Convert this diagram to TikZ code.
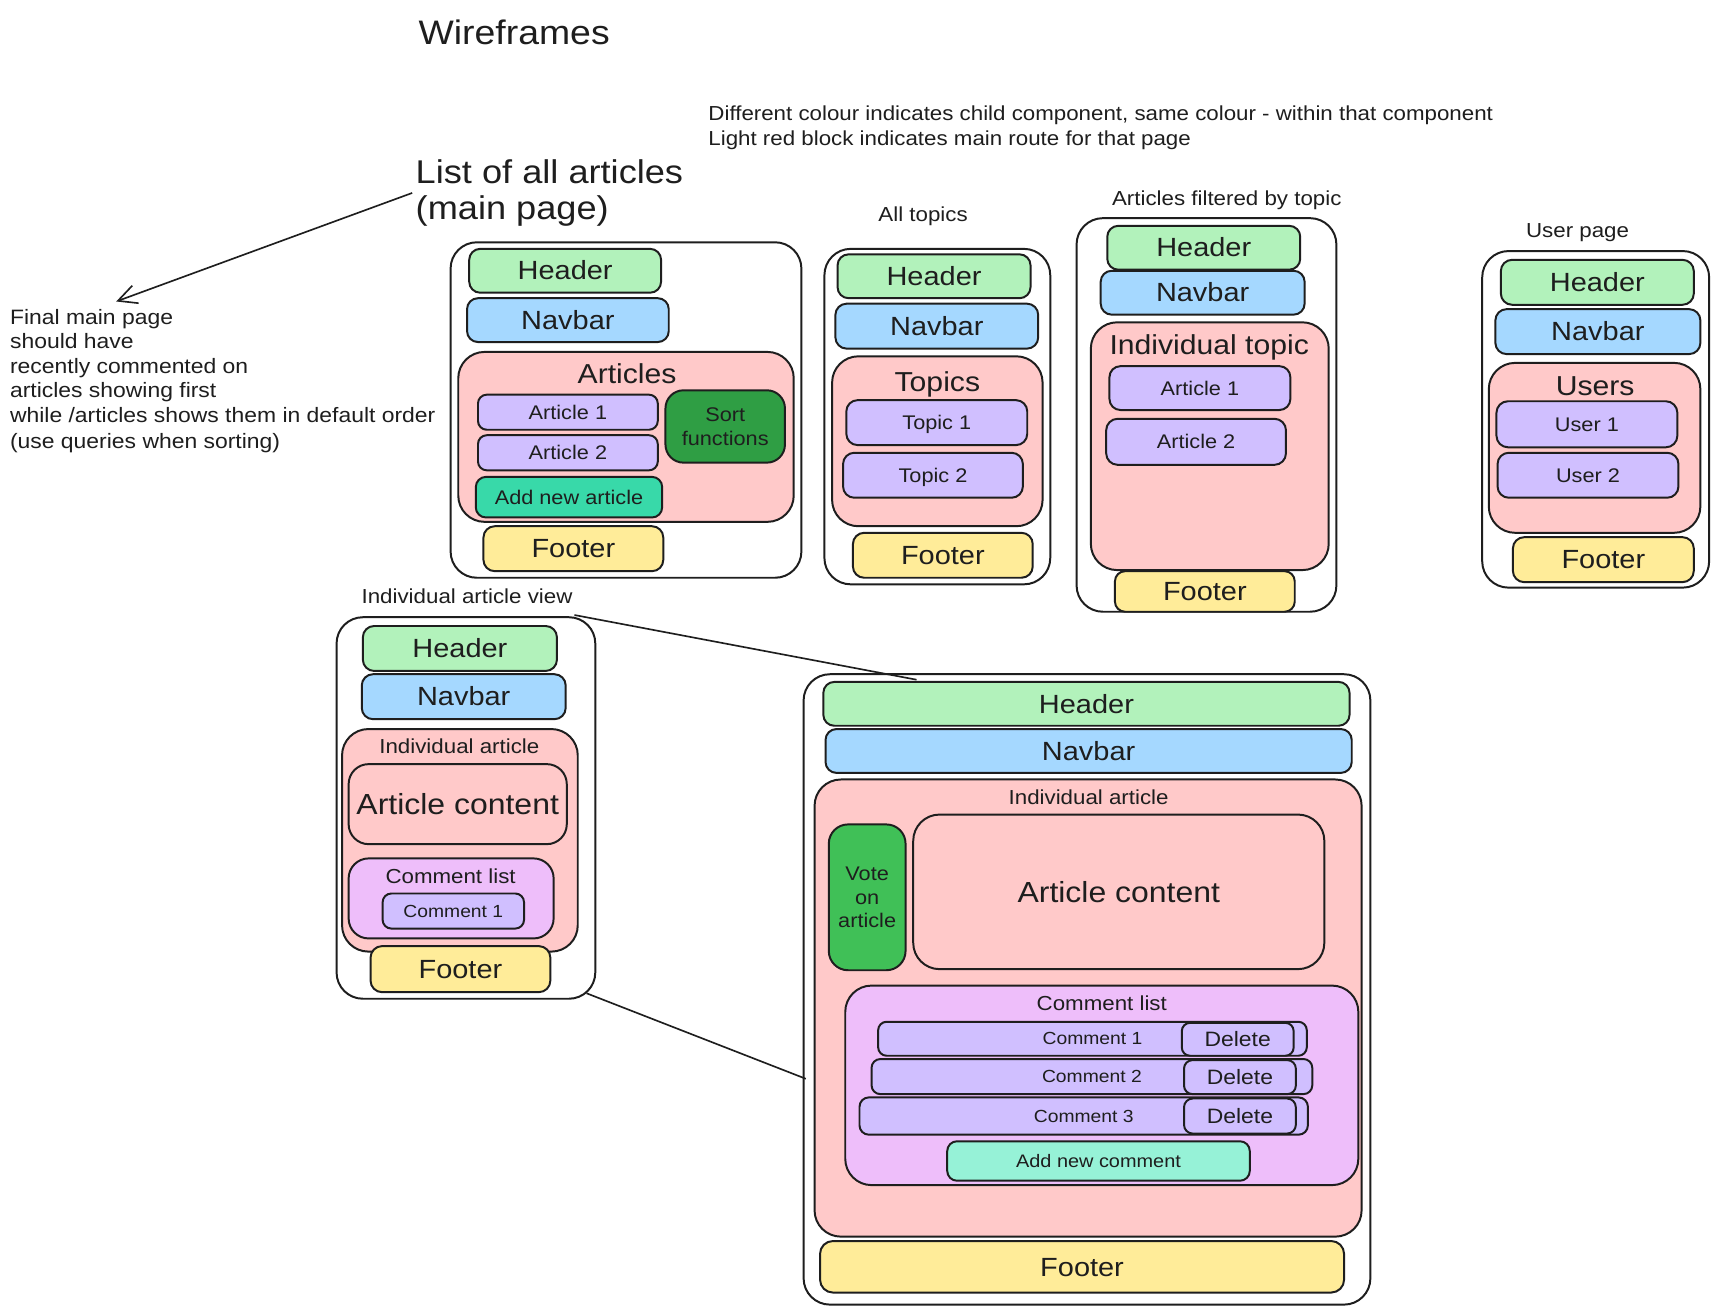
\documentclass[tikz,border=0pt]{standalone}
\usepackage{fontspec}
\setmainfont[FakeStretch=1.1]{Liberation Sans}
\usetikzlibrary{arrows.meta}
\definecolor{ink}{HTML}{1E1E1E}
\definecolor{hdrc}{HTML}{B2F2BB}
\definecolor{navc}{HTML}{A5D8FF}
\definecolor{pinkc}{HTML}{FFC9C9}
\definecolor{itemc}{HTML}{D0BFFF}
\definecolor{ftrc}{HTML}{FFEC99}
\definecolor{sortc}{HTML}{2F9E44}
\definecolor{addac}{HTML}{38D9A9}
\definecolor{votec}{HTML}{40C057}
\definecolor{clc}{HTML}{EEBEFA}
\definecolor{addcc}{HTML}{96F2D7}
\newcommand{\fz}[1]{\fontsize{#1pt}{\dimexpr#1pt*6/5\relax}\selectfont}
\newcommand{\wfbox}[7]{%
  \pgfmathsetmacro{\wfr}{min(24,0.25*min((#5)-(#3),(#6)-(#4)))}%
  \node[#1, rounded corners={\wfr pt}, minimum width={(#5)-(#3)}, minimum height={(#6)-(#4)}] (#2) at ({((#3)+(#5))/2},{((#4)+(#6))/2}) {#7};}
\tikzset{
  fsz/.style={font=\fz{#1}, text height={0.75*#1}, text depth={0.05*#1}},
  wf/.style={draw=ink, line width=1.8pt, inner sep=0pt, text=ink, align=center},
  frame/.style={wf, fill=white},
  sec/.style={wf, fill=pinkc},
  hdr/.style={wf, fill=hdrc, fsz=24},
  nav/.style={wf, fill=navc, fsz=24},
  ftr/.style={wf, fill=ftrc, fsz=24},
  item/.style={wf, fill=itemc, fsz=18},
  citem/.style={wf, fill=itemc, fsz=16},
  del/.style={wf, fill=itemc, fsz=19},
  clist/.style={wf, fill=clc},
  multi/.style={text height={}, text depth={}},
  lbl/.style={inner sep=0pt, text=ink},
  seclbl/.style={lbl, fsz=25},
  smlbl/.style={lbl, fsz=18.5},
  conn/.style={draw=ink, line width=1.5pt},
}
\begin{document}
\begin{tikzpicture}[x=1pt, y=-1pt]
\fill[white] (0,0) rectangle (1568,1199);
\useasboundingbox (0,0) rectangle (1568,1199);

% title and notes
\node[lbl, fsz=31] (title) at (469,30) {Wireframes};
\node[lbl, anchor=west, fsz=18.5] (note1) at (646,103) {Different colour indicates child component, same colour - within that component};
\node[lbl, anchor=west, fsz=18.5] (note2) at (646,126) {Light red block indicates main route for that page};
\node[lbl, anchor=west, fsz=30] (list1) at (379,157) {List of all articles};
\node[lbl, anchor=west, fsz=30] (list2) at (379,190) {(main page)};
\node[lbl, anchor=west, fsz=19] (fm1) at (9,289) {Final main page};
\node[lbl, anchor=west, fsz=19] (fm2) at (9,311) {should have};
\node[lbl, anchor=west, fsz=19] (fm3) at (9,334) {recently commented on};
\node[lbl, anchor=west, fsz=19] (fm4) at (9,356) {articles showing first};
\node[lbl, anchor=west, fsz=19] (fm5) at (9,379) {while /articles shows them in default order};
\node[lbl, anchor=west, fsz=19] (fm6) at (9,402) {(use queries when sorting)};
\coordinate (arrS) at (376,176);
\coordinate (arrE) at (106,275);
\draw[conn, -{Straight Barb[length=17pt,width=17pt]}] (arrS) -- (arrE);

% Main page
\wfbox{frame}{frameA}{411}{221}{731}{527}{}
\wfbox{hdr}{hdrA}{428}{227}{603}{267}{Header}
\wfbox{nav}{navA}{426}{272}{610}{312}{Navbar}
\wfbox{sec}{secA}{418}{321}{724}{476}{}
\node[seclbl] (secAl) at (572,341) {Articles};
\wfbox{item}{art1A}{436}{360}{600}{392}{Article 1}
\wfbox{item}{art2A}{436}{397}{600}{429}{Article 2}
\wfbox{wf, fill=addac, fsz=18}{addA}{434}{435}{604}{472}{Add new article}
\wfbox{wf, fill=sortc, fsz=18, multi}{sortA}{607}{356}{716}{422}{Sort\\functions}
\wfbox{ftr}{ftrA}{441}{480}{605}{521}{Footer}

% All topics
\node[smlbl] (labB) at (842,196) {All topics};
\wfbox{frame}{frameB}{752}{227}{958}{533}{}
\wfbox{hdr}{hdrB}{764}{232}{940}{272}{Header}
\wfbox{nav}{navB}{762}{277}{947}{318}{Navbar}
\wfbox{sec}{secB}{759}{325}{951}{480}{}
\node[seclbl] (secBl) at (855,348) {Topics};
\wfbox{item}{t1B}{772}{365}{937}{406}{Topic 1}
\wfbox{item}{t2B}{769}{413}{933}{454}{Topic 2}
\wfbox{ftr}{ftrB}{778}{486}{942}{527}{Footer}

% Articles filtered by topic
\node[smlbl] (labC) at (1119,181) {Articles filtered by topic};
\wfbox{frame}{frameC}{982}{199}{1219}{558}{}
\wfbox{hdr}{hdrC}{1010}{206}{1186}{246}{Header}
\wfbox{nav}{navC}{1004}{247}{1190}{287}{Navbar}
\wfbox{sec}{secC}{995}{294}{1212}{520}{}
\node[seclbl] (secCl) at (1103,315) {Individual topic};
\wfbox{item}{a1C}{1012}{334}{1177}{374}{Article 1}
\wfbox{item}{a2C}{1009}{382}{1173}{424}{Article 2}
\wfbox{ftr}{ftrC}{1017}{521}{1181}{558}{Footer}

% User page
\node[smlbl] (labD) at (1439,210) {User page};
\wfbox{frame}{frameD}{1352}{229}{1559}{536}{}
\wfbox{hdr}{hdrD}{1369}{237}{1545}{278}{Header}
\wfbox{nav}{navD}{1364}{282}{1551}{323}{Navbar}
\wfbox{sec}{secD}{1358}{331}{1551}{486}{}
\node[seclbl] (secDl) at (1455,352) {Users};
\wfbox{item}{u1D}{1365}{366}{1530}{408}{User 1}
\wfbox{item}{u2D}{1366}{413}{1531}{454}{User 2}
\wfbox{ftr}{ftrD}{1380}{490}{1545}{531}{Footer}

% Individual article view (small)
\node[smlbl] (labE) at (426,544) {Individual article view};
\wfbox{frame}{frameE}{307}{563}{543}{911}{}
\wfbox{hdr}{hdrE}{331}{571}{508}{612}{Header}
\wfbox{nav}{navE}{330}{615}{516}{656}{Navbar}
\wfbox{sec}{secE}{312}{665}{527}{868}{}
\node[smlbl] (secEl) at (419,681) {Individual article};
\wfbox{sec, fsz=26.5}{contE}{318}{697}{517}{770}{Article content}
\wfbox{clist}{clE}{318}{783}{505}{856}{}
\node[smlbl] (clEl) at (411,799) {Comment list};
\wfbox{citem}{c1E}{349}{815}{478}{847}{Comment 1}
\wfbox{ftr}{ftrE}{338}{863}{502}{905}{Footer}

% Individual article view (large)
\wfbox{frame}{frameF}{733}{615}{1250}{1190}{}
\wfbox{hdr}{hdrF}{751}{622}{1231}{662}{Header}
\wfbox{nav}{navF}{753}{665}{1233}{705}{Navbar}
\wfbox{sec}{secF}{743}{711}{1242}{1128}{}
\node[smlbl] (secFl) at (993,727) {Individual article};
\wfbox{wf, fill=votec, fsz=18, multi}{voteF}{756}{752}{826}{885}{Vote\\on\\article}
\wfbox{sec, fsz=26.5}{contF}{833}{743}{1208}{884}{Article content}
\wfbox{clist}{clF}{771}{899}{1239}{1081}{}
\node[smlbl] (clFl) at (1005,915) {Comment list};
\wfbox{citem}{c1F}{801}{932}{1192}{963}{Comment 1}
\wfbox{del}{d1F}{1078}{933}{1180}{963}{Delete}
\wfbox{citem}{c2F}{795}{966}{1197}{998}{Comment 2}
\wfbox{del}{d2F}{1080}{967}{1182}{998}{Delete}
\wfbox{citem}{c3F}{784}{1001}{1193}{1035}{Comment 3}
\wfbox{del}{d3F}{1080}{1002}{1182}{1034}{Delete}
\wfbox{wf, fill=addcc, fsz=16.5}{addF}{864}{1041}{1140}{1077}{Add new comment}
\wfbox{ftr}{ftrF}{748}{1132}{1226}{1179}{Footer}

% zoom connectors
\coordinate (lnA) at (524,561);
\coordinate (lnB) at (836,620);
\coordinate (lnC) at (535,906);
\coordinate (lnD) at (735,984);
\draw[conn] (lnA) -- (lnB);
\draw[conn] (lnC) -- (lnD);
\end{tikzpicture}
\end{document}
